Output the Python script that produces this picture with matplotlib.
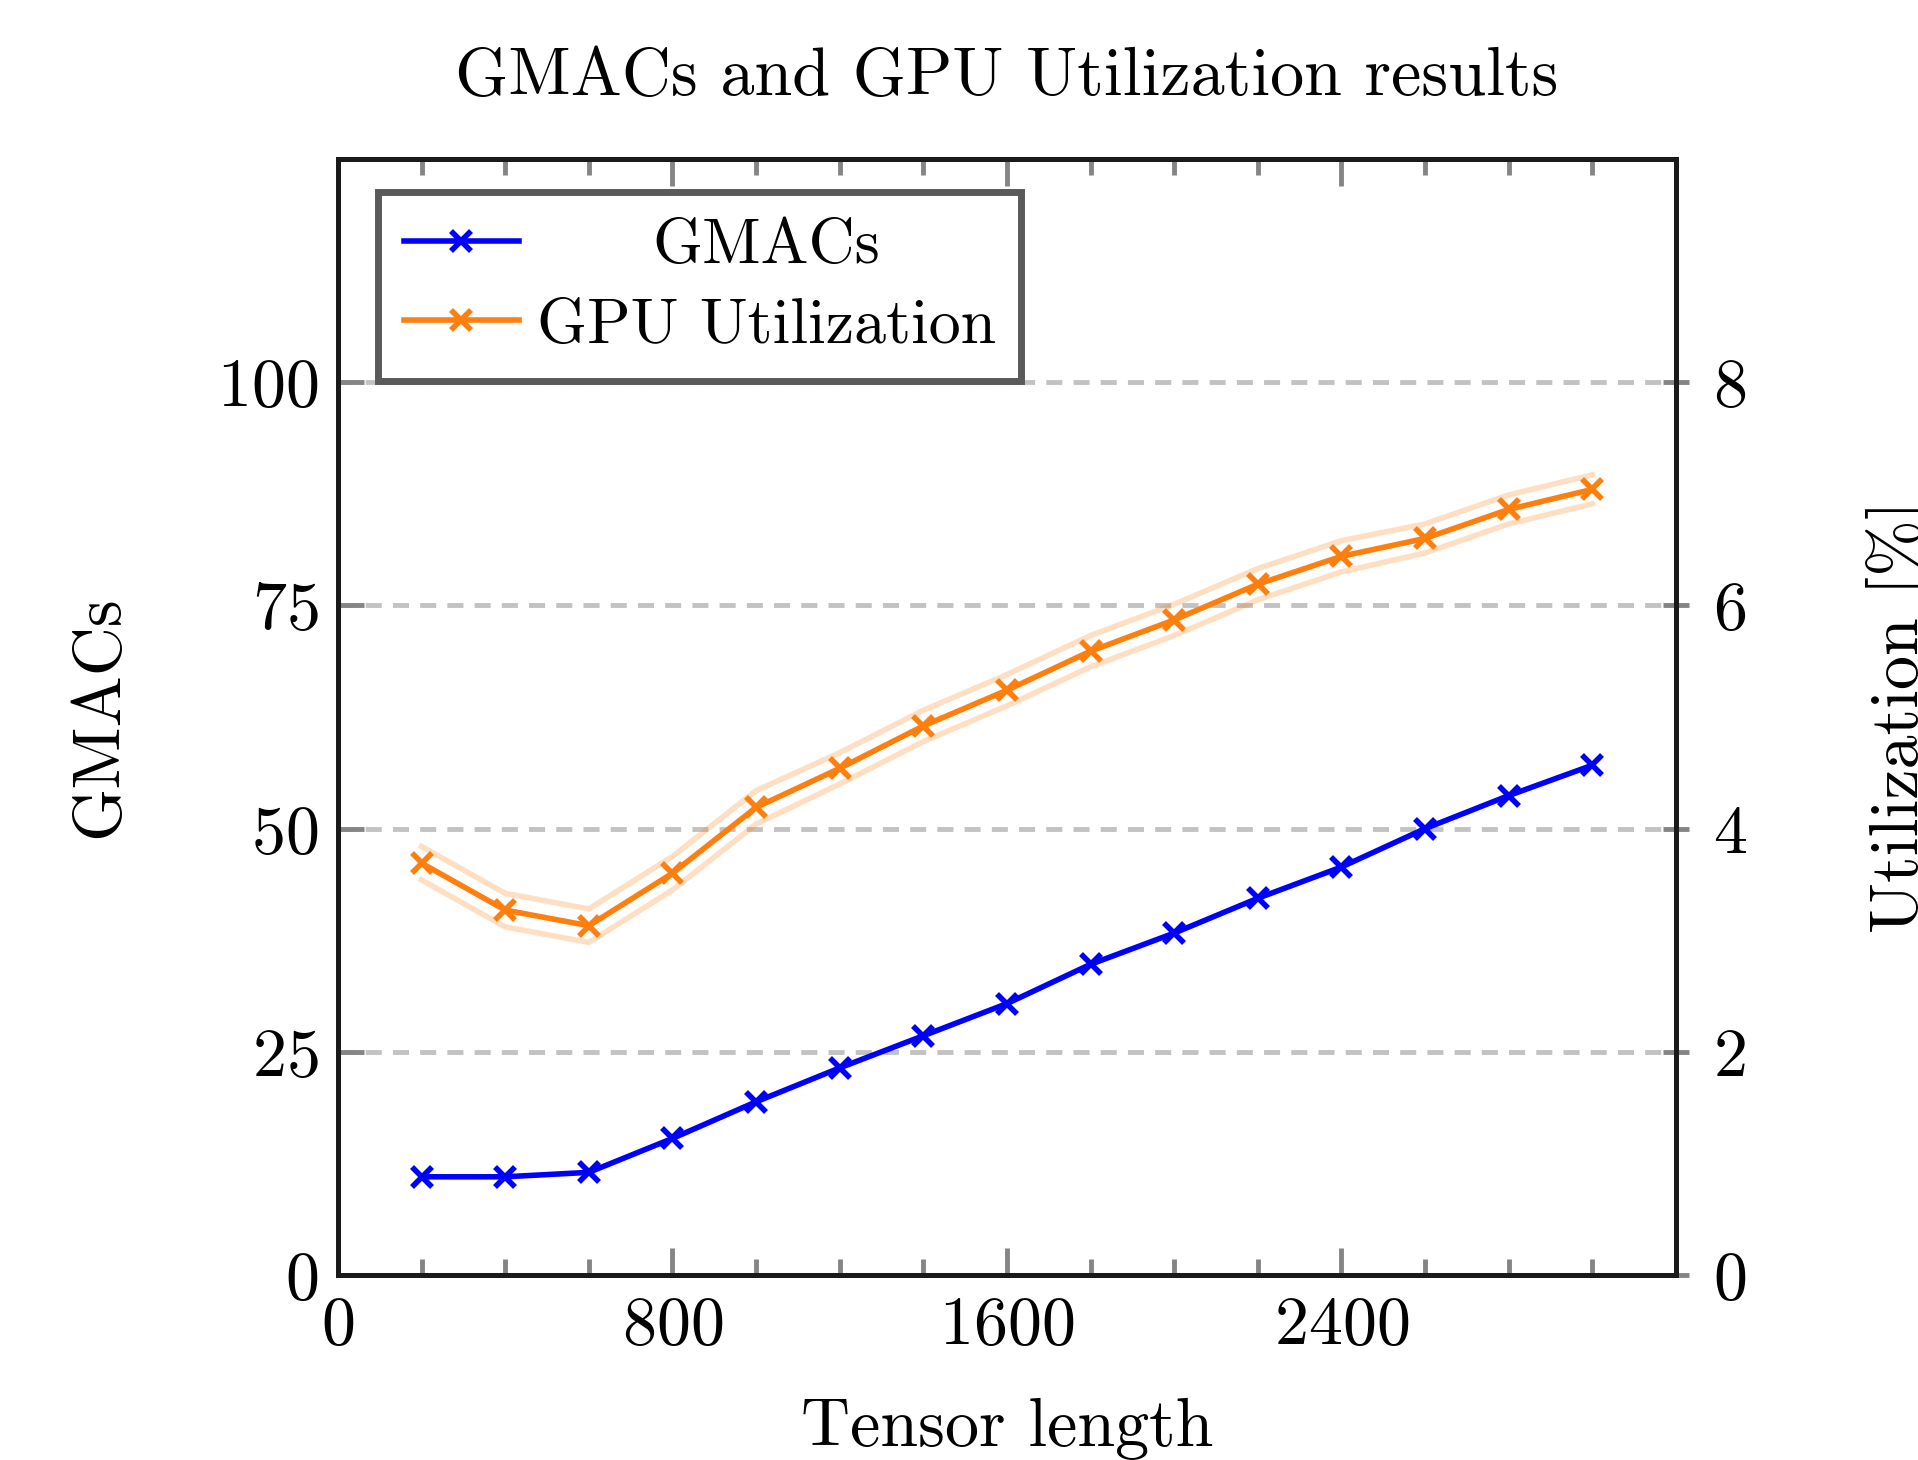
import numpy as np
import matplotlib.pyplot as plt
from matplotlib.ticker import MultipleLocator

# Tensor length vs GMACs / GPU utilization
tensor_len = [200, 400, 600, 800, 1000, 1200, 1400, 1600, 1800, 2000, 2200, 2400, 2600, 2800, 3000]
gmacs = [11.0, 11.0, 11.5, 15.3, 19.4, 23.2, 26.8, 30.4, 34.8, 38.3, 42.2, 45.7, 50.0, 53.7, 57.1]
util = [3.69, 3.27, 3.13, 3.60, 4.19, 4.54, 4.92, 5.24, 5.59, 5.87, 6.19, 6.44, 6.60, 6.86, 7.04]
util_std = [0.15, 0.15, 0.15, 0.15, 0.15, 0.14, 0.14, 0.14, 0.14, 0.14, 0.14, 0.14, 0.13, 0.13, 0.13]

x_ticks = [0, 800, 1600, 2400]
gmac_ticks = [0, 25, 50, 75, 100]
util_ticks = [0, 2, 4, 6, 8]

BLUE = "#0000ff"
ORANGE = "#ff7f0e"
FS = 49      # labels / ticks
FS_LEG = 46  # legend

plt.rcParams["font.family"] = "serif"
plt.rcParams["font.serif"] = ["cmr10"]
plt.rcParams["mathtext.fontset"] = "cm"
plt.rcParams["axes.formatter.use_mathtext"] = True

fig = plt.figure(figsize=(19.18, 14.6), dpi=100)
ax = fig.add_axes([0.1762, 0.1267, 0.6976, 0.7644])
ax2 = ax.twinx()

l1, = ax.plot(tensor_len, gmacs, color=BLUE, lw=4, marker="x", ms=15, mew=4,
              label="GMACs", zorder=3)

lo = np.array(util) - np.array(util_std)
hi = np.array(util) + np.array(util_std)
ax2.plot(tensor_len, lo, color=ORANGE, lw=4, alpha=0.25)
ax2.plot(tensor_len, hi, color=ORANGE, lw=4, alpha=0.25)
l2, = ax2.plot(tensor_len, util, color=ORANGE, lw=4, marker="x", ms=15, mew=4,
               label="GPU Utilization", zorder=3)

ax.set_xlim(0, 3200)
ax.set_ylim(0, 125)
ax2.set_ylim(0, 10)
ax.set_xticks(x_ticks)
ax.xaxis.set_minor_locator(MultipleLocator(200))
ax.set_yticks(gmac_ticks)
ax2.set_yticks(util_ticks)

ax.yaxis.grid(True, color="#c2c2c2", lw=3.5, dashes=(3.3, 2.3))
ax.set_axisbelow(True)

tick_col = "#858585"
ax.tick_params(axis="x", which="major", direction="in", top=True, length=19.5, width=3.5,
               color=tick_col, labelsize=FS, pad=15)
ax.tick_params(axis="x", which="minor", direction="in", top=True, length=11.5, width=3.5,
               color=tick_col)
ax.tick_params(axis="y", which="major", direction="in", length=19, width=3.5,
               color=tick_col, labelsize=FS, pad=14)
ax2.tick_params(axis="y", direction="inout", length=19, width=3.5, color=tick_col,
                labelsize=FS, pad=17)

for a in (ax, ax2):
    for s in a.spines.values():
        s.set_linewidth(3.6)
        s.set_color("#1a1a1a")

fig.text(0.525, 0.947, "GMACs and GPU Utilization results", fontsize=FS,
         ha="center", va="center")
fig.text(0.052, 0.5095, "GMACs", fontsize=FS, rotation=90, ha="center", va="center")
fig.text(0.991, 0.5095, "Utilization [%]", fontsize=FS, rotation=90, ha="center", va="center")
fig.text(0.525, 0.021, "Tensor length", fontsize=FS, ha="center", va="center")

leg = ax.legend(handles=[l1, l2], loc="upper left", bbox_to_anchor=(0.030, 0.970),
                borderaxespad=0, fontsize=FS_LEG, fancybox=False, framealpha=1,
                handlelength=1.8, handletextpad=0.28, borderpad=0.4, labelspacing=0.34)
leg.get_frame().set_linewidth(5)
leg.get_frame().set_edgecolor("#5a5a5a")
leg.set_zorder(5)

# centre the legend labels like pgfplots does
fig.canvas.draw()
r = fig.canvas.get_renderer()
texts = leg.get_texts()
ws = [t.get_window_extent(r).width for t in texts]
for t, w in zip(texts, ws):
    t.set_position(((max(ws) - w) / 2, 0))

fig.savefig("out.png", dpi=100)
